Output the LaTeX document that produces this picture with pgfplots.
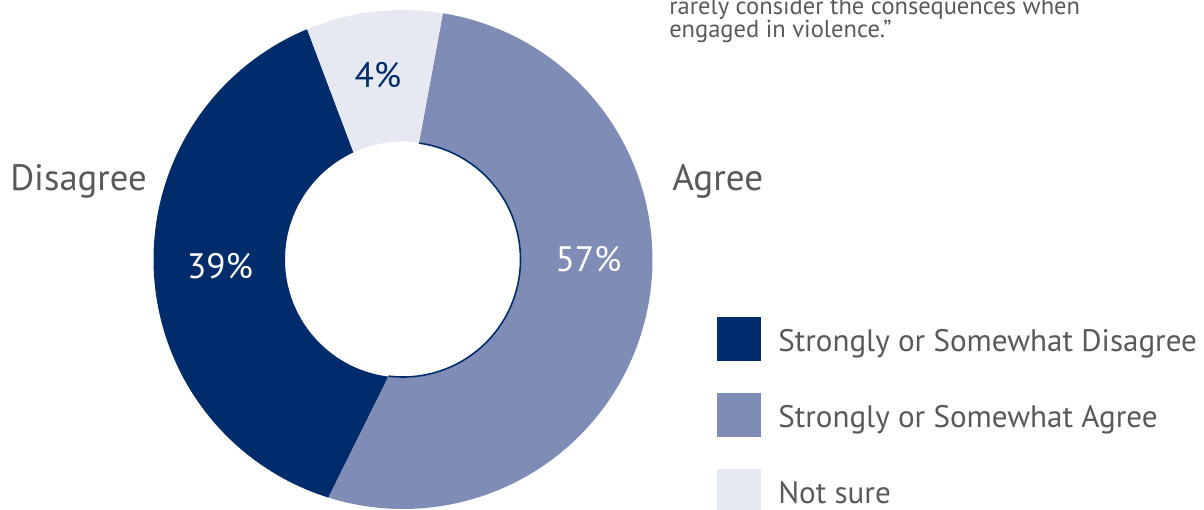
\documentclass[border=0pt]{standalone}
\usepackage{pgfplots}
\pgfplotsset{compat=1.18}
\usepackage{pgfplotstable}
\usepackage{fontspec}
\setmainfont{PT Sans}
\definecolor{navy}{HTML}{002C6B}
\definecolor{midblue}{HTML}{7F8CB5}
\definecolor{lightblue}{HTML}{E6E9F1}
\definecolor{txtgray}{HTML}{595959}

% share = printed percentage; boundaries as drawn (degrees clockwise from 12 o'clock)
\pgfplotstableread{
slice    share outa   outb   ina    inb
Disagree 39    197.4  337.4  187.1  335.2
Agree    57    9.2    197.4  7.8    187.1
Notsure  4     -22.6  9.2    -24.8  7.8
}\slices

\newcommand\cx{403}
\newcommand\cy{259.5}
\newcommand\Ro{249.5}
\newcommand\Ri{118}

\newcommand\slice[5]{%
\addplot[fill=#1, draw=none, samples=202, domain=0:201, variable=\t]
({\cx + (\t<=100 ? \Ro*sin(#2+(#3-#2)*\t/100) : \Ri*sin(#5+(#4-#5)*(\t-101)/100))},
 {\cy - (\t<=100 ? \Ro*cos(#2+(#3-#2)*\t/100) : \Ri*cos(#5+(#4-#5)*(\t-101)/100))});
}
\newcommand\drawslice[2]{%
\pgfplotstablegetelem{#1}{outa}\of\slices\edef\oa{\pgfplotsretval}%
\pgfplotstablegetelem{#1}{outb}\of\slices\edef\ob{\pgfplotsretval}%
\pgfplotstablegetelem{#1}{ina}\of\slices\edef\ia{\pgfplotsretval}%
\pgfplotstablegetelem{#1}{inb}\of\slices\edef\ib{\pgfplotsretval}%
\edef\doit{\noexpand\slice{#2}{\oa}{\ob}{\ia}{\ib}}\doit
}

\begin{document}
\begin{tikzpicture}
\path[use as bounding box, clip] (0,0) rectangle (903pt,382.5pt);
\begin{axis}[
  at={(0,0)}, anchor=south west,
  x=0.75pt, y=0.75pt, scale only axis,
  xmin=0, xmax=1204, ymin=0, ymax=510, y dir=reverse,
  hide axis, clip=false,
  legend image code/.code={\fill[#1] (0pt,-14.75pt) rectangle (33pt,18.25pt);},
  legend style={at={(axis cs:717,317)}, anchor=north west, draw=none, fill=none,
    font=\fontsize{23.3}{27}\selectfont, text=txtgray,
    row sep=23.9pt, column sep=12.75pt, inner sep=0pt,
    nodes={inner sep=0pt}},
  legend cell align=left,
]
\drawslice{0}{navy}
\addlegendentry{Strongly or Somewhat Disagree}
\drawslice{1}{midblue}
\addlegendentry{Strongly or Somewhat Agree}
\drawslice{2}{lightblue}
\addlegendentry{Not sure}
\addplot[navy, line width=1.2pt, samples=100, domain=7.8:187.1, forget plot]
  ({\cx+(\Ri-0.5)*sin(x)},{\cy-(\Ri-0.5)*cos(x)});

\node[text=white, font=\fontsize{26.5}{30}\selectfont] at (axis cs:220,266) {39\%};
\node[text=white, font=\fontsize{26.5}{30}\selectfont] at (axis cs:588.5,259.5) {57\%};
\node[text=navy, font=\fontsize{26.5}{30}\selectfont] at (axis cs:378,75) {4\%};
\node[anchor=base west, text=txtgray, font=\fontsize{27.5}{32}\selectfont, inner sep=0pt] at (axis cs:10,190.7) {Disagree};
\node[anchor=base west, text=txtgray, font=\fontsize{27.8}{32}\selectfont, inner sep=0pt] at (axis cs:672,190.7) {Agree};
\node[anchor=base west, text=txtgray, font=\fontsize{18.4}{22}\selectfont, inner sep=0pt] at (axis cs:669,14.5) {rarely consider the consequences when};
\node[anchor=base west, text=txtgray, font=\fontsize{18.4}{22}\selectfont, inner sep=0pt] at (axis cs:669,38) {engaged in violence.”};
\end{axis}
\end{tikzpicture}
\end{document}
